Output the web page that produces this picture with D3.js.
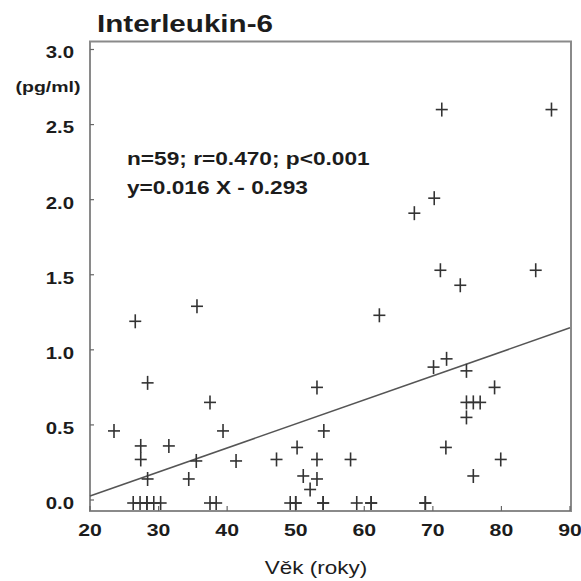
<!DOCTYPE html>
<html>
<head>
<meta charset="utf-8">
<script src="https://cdn.jsdelivr.net/npm/d3@7"></script>
<style>
  body { margin: 0; background: #fff; }
  svg { display: block; }
</style>
</head>
<body>
<div id="chart"></div>
<script>
'use strict'

// age (years) and IL-6 (pg/ml)
var ages = [26.6, 35.6, 28.4, 37.5, 23.5, 39.4, 27.4, 31.5, 27.4, 35.5, 41.3, 28.4, 34.4,
            26.3, 27.3, 28.3, 29.3, 30.3, 37.5, 38.4,
            53.1, 54.1, 50.2, 47.2, 53.1, 58.0, 51.1, 53.1, 52.1,
            49.2, 50.0, 54.0, 58.9, 61.0,
            70.1, 72.0, 74.9, 79.0, 74.9, 75.9, 76.9, 74.9, 71.9, 79.9, 75.9, 68.9,
            71.3, 87.3, 70.2, 67.3, 71.1, 74.0, 85.0, 62.2,
            28.3, 50.0, 54.0, 61.0, 68.9];
var il6 = [1.19, 1.29, 0.78, 0.65, 0.46, 0.46, 0.36, 0.36, 0.27, 0.26, 0.26, 0.14, 0.14,
           -0.02, -0.02, -0.02, -0.02, -0.02, -0.02, -0.02,
           0.75, 0.46, 0.35, 0.27, 0.27, 0.27, 0.16, 0.14, 0.07,
           -0.02, -0.02, -0.02, -0.02, -0.02,
           0.885, 0.94, 0.86, 0.75, 0.65, 0.65, 0.65, 0.55, 0.35, 0.27, 0.16, -0.02,
           2.60, 2.60, 2.01, 1.91, 1.53, 1.43, 1.53, 1.23,
           -0.02, -0.02, -0.02, -0.02, -0.02];
var xTicks = [20, 30, 40, 50, 60, 70, 80, 90];
var yTicks = [0, 0.5, 1.0, 1.5, 2.0, 2.5, 3.0];
var slope = 0.016, intercept = -0.293;
var statsLines = ["n=59; r=0.470; p<0.001", "y=0.016 X - 0.293"];

var W = 581, H = 581;
var svg = d3.select("#chart").append("svg").attr("width", W).attr("height", H);

var x = d3.scaleLinear().domain([20, 90]).range([90, 570]);
var y = d3.scaleLinear().domain([0, 3]).range([500, 49.5]);

var frameL = 90, frameR = 571, frameT = 41.5, frameB = 511;
var ink = "#1c1c1c";
var font = "Liberation Sans, Arial, Helvetica, sans-serif";

// the scan is stretched sideways, so text gets a horizontal scale
function label(parent, tx, ty, txt, opts) {
    var t = parent.append("g")
        .attr("transform", "translate(" + tx + "," + ty + ") scale(" + (opts.sx || 1.25) + ",1)")
        .append("text")
        .attr("text-anchor", opts.anchor || "start")
        .attr("dominant-baseline", opts.baseline || "auto")
        .attr("font-family", font)
        .attr("font-weight", opts.weight || "bold")
        .attr("font-size", opts.size)
        .attr("fill", ink)
        .text(txt);
    return t;
}

svg.append("rect")
    .attr("x", frameL).attr("y", frameT)
    .attr("width", frameR - frameL).attr("height", frameB - frameT)
    .attr("fill", "none").attr("stroke", "#8a8a8a").attr("stroke-width", 2);

// ticks, drawn inward
svg.selectAll(".yt").data(yTicks).enter().append("line")
    .attr("x1", frameL).attr("x2", frameL + 4)
    .attr("y1", function(d) { return y(d); }).attr("y2", function(d) { return y(d); })
    .attr("stroke", "#666").attr("stroke-width", 1.2);
svg.selectAll(".xt").data(xTicks).enter().append("line")
    .attr("x1", function(d) { return x(d); }).attr("x2", function(d) { return x(d); })
    .attr("y1", frameB).attr("y2", frameB - 5)
    .attr("stroke", "#666").attr("stroke-width", 1.2);

yTicks.forEach(function(d) {
    label(svg, 74, y(d) + 3, d3.format(".1f")(d),
          { anchor: "end", baseline: "central", size: 17, sx: 1.2 });
});

label(svg, 48, 87, "(pg/ml)", { anchor: "middle", baseline: "central", size: 15, sx: 1.3 });

xTicks.forEach(function(d) {
    label(svg, x(d), 530, String(d), { anchor: "middle", baseline: "central", size: 17, sx: 1.25 });
});

label(svg, 316, 568, "Věk (roky)", { anchor: "middle", baseline: "central", size: 18, weight: "normal", sx: 1.25 });

label(svg, 97, 32, "Interleukin-6", { size: 23.5, sx: 1.26 });

statsLines.forEach(function(d, i) {
    label(svg, 127, 165 + i * 29, d, { size: 18, sx: 1.26 });
});

// regression line
svg.append("line")
    .attr("x1", x(20)).attr("y1", y(slope * 20 + intercept))
    .attr("x2", x(90)).attr("y2", y(slope * 90 + intercept))
    .attr("stroke", "#555").attr("stroke-width", 1.6);

// crosses
var pts = ages.map(function(a, i) { return [a, il6[i]]; });
var g = svg.append("g").attr("stroke", "#333").attr("stroke-width", 1.6);
var arm = 6;
pts.forEach(function(p) {
    var cx = x(p[0]), cy = y(p[1]);
    g.append("line").attr("x1", cx - arm).attr("x2", cx + arm).attr("y1", cy).attr("y2", cy);
    g.append("line").attr("x1", cx).attr("x2", cx).attr("y1", cy - arm - 1).attr("y2", cy + arm + 1);
});
</script>
</body>
</html>
